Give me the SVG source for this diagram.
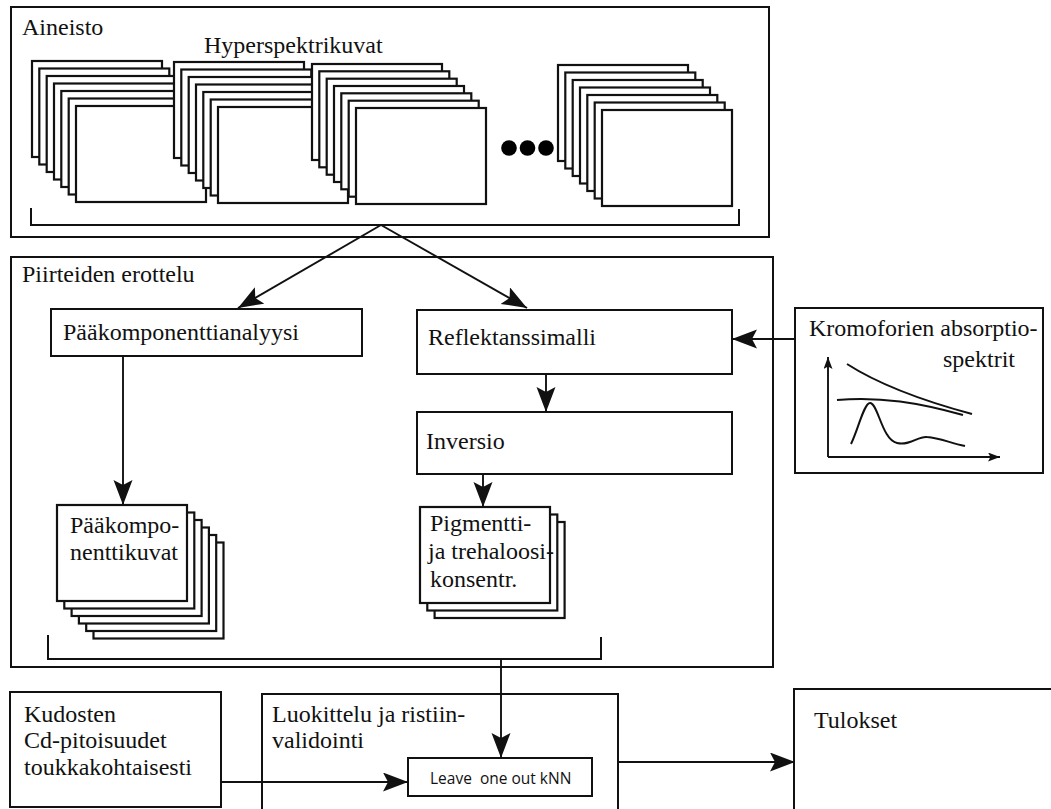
<svg xmlns="http://www.w3.org/2000/svg" width="1051" height="809" viewBox="0 0 1051 809" font-family="'Liberation Serif', 'Times New Roman', 'DejaVu Serif', serif">
<style>
.box{fill:#fff;stroke:#111;stroke-width:2}
.frame{fill:none;stroke:#111;stroke-width:2}
.st{fill:#fff;stroke:#111;stroke-width:2.2}
.t{font-family:'Liberation Serif','Times New Roman','DejaVu Serif',serif;font-size:24px;fill:#111}
.s{font-family:'Open Sans','Liberation Sans',Arial,sans-serif;font-size:15.5px;fill:#111}
.ln{fill:none;stroke:#111;stroke-width:1.9}
.cv{fill:none;stroke:#111;stroke-width:2}
</style>
<defs>
<marker id="ah" markerUnits="userSpaceOnUse" markerWidth="28" markerHeight="22" refX="25" refY="9.5" orient="auto">
<path d="M0,0 L25,9.5 L0,19 L5,9.5 z" fill="#111"/>
</marker>
<marker id="sa" markerUnits="userSpaceOnUse" markerWidth="14" markerHeight="10" refX="12" refY="4.5" orient="auto">
<path d="M0,0 L12,4.5 L0,9 L2.5,4.5 z" fill="#111"/>
</marker>
</defs>
<rect width="1051" height="809" fill="#fff"/>

<g id="aineisto">
<rect class="frame" x="11" y="7" width="758" height="230"/>
<text class="t" x="22" y="35" font-family="Liberation Serif">Aineisto</text>
<text class="t" x="204" y="53" font-family="Liberation Serif">Hyperspektrikuvat</text>
<g id="stack1">
<rect class="st" x="32" y="61" width="130" height="96"/>
<rect class="st" x="39.3" y="68.5" width="130" height="96"/>
<rect class="st" x="46.7" y="76" width="130" height="96"/>
<rect class="st" x="54" y="83.5" width="130" height="96"/>
<rect class="st" x="61.3" y="91" width="130" height="96"/>
<rect class="st" x="68.7" y="98.5" width="130" height="96"/>
<rect class="st" x="76" y="106" width="130" height="96"/>
</g>
<g id="stack2">
<rect class="st" x="174" y="62" width="130" height="96"/>
<rect class="st" x="181.3" y="69.5" width="130" height="96"/>
<rect class="st" x="188.7" y="77" width="130" height="96"/>
<rect class="st" x="196" y="84.5" width="130" height="96"/>
<rect class="st" x="203.3" y="92" width="130" height="96"/>
<rect class="st" x="210.7" y="99.5" width="130" height="96"/>
<rect class="st" x="218" y="107" width="130" height="96"/>
</g>
<g id="stack3">
<rect class="st" x="312" y="64" width="130" height="96"/>
<rect class="st" x="319.3" y="71.3" width="130" height="96"/>
<rect class="st" x="326.7" y="78.7" width="130" height="96"/>
<rect class="st" x="334" y="86" width="130" height="96"/>
<rect class="st" x="341.3" y="93.3" width="130" height="96"/>
<rect class="st" x="348.7" y="100.7" width="130" height="96"/>
<rect class="st" x="356" y="108" width="130" height="96"/>
</g>
<g id="dots" fill="#000">
<circle cx="509" cy="148" r="7.8"/>
<circle cx="527.5" cy="148" r="7.8"/>
<circle cx="546" cy="148" r="7.8"/>
</g>
<g id="stack4">
<rect class="st" x="558" y="65" width="130" height="96"/>
<rect class="st" x="565.3" y="72.5" width="130" height="96"/>
<rect class="st" x="572.7" y="80" width="130" height="96"/>
<rect class="st" x="580" y="87.5" width="130" height="96"/>
<rect class="st" x="587.3" y="95" width="130" height="96"/>
<rect class="st" x="594.7" y="102.5" width="130" height="96"/>
<rect class="st" x="602" y="110" width="130" height="96"/>
</g>
<path class="frame" d="M31,208 V225 H739 V209"/>
</g>

<g id="piirteiden">
<rect class="frame" x="11" y="257" width="762" height="410"/>
<text class="t" x="22" y="282" font-family="Liberation Serif">Piirteiden erottelu</text>
<path class="frame" d="M48,635 V659 H601 V637"/>
</g>

<g id="pca">
<rect class="box" x="51" y="309" width="311" height="47"/>
<text class="t" x="63" y="340" font-family="Liberation Serif">Pääkomponenttianalyysi</text>
</g>

<g id="reflektanssi">
<rect class="box" x="417" y="310" width="315" height="64"/>
<text class="t" x="428" y="345" font-family="Liberation Serif">Reflektanssimalli</text>
</g>

<g id="inversio">
<rect class="box" x="417" y="412" width="315" height="62"/>
<text class="t" x="426" y="449" font-family="Liberation Serif">Inversio</text>
</g>

<g id="pkkuvat">
<rect class="st" x="93.5" y="542.5" width="130" height="96"/>
<rect class="st" x="86.2" y="535" width="130" height="96"/>
<rect class="st" x="78.9" y="527.5" width="130" height="96"/>
<rect class="st" x="71.6" y="520" width="130" height="96"/>
<rect class="st" x="64.3" y="512.5" width="130" height="96"/>
<rect class="st" x="57" y="505" width="130" height="96"/>
<text class="t" x="70" y="533" font-family="Liberation Serif">Pääkompo-</text>
<text class="t" x="70" y="560" font-family="Liberation Serif">nenttikuvat</text>
</g>

<g id="pigmentti">
<rect class="st" x="434.6" y="522" width="130" height="96"/>
<rect class="st" x="427.3" y="514.5" width="130" height="96"/>
<rect class="st" x="420" y="507" width="130" height="96"/>
<text class="t" x="430" y="531" font-family="Liberation Serif">Pigmentti-</text>
<text class="t" x="428" y="559" font-family="Liberation Serif">ja trehaloosi-</text>
<text class="t" x="430" y="587" font-family="Liberation Serif">konsentr.</text>
</g>

<g id="kromoforit">
<rect class="box" x="795" y="308" width="248" height="165"/>
<text class="t" x="809" y="336" font-family="Liberation Serif">Kromoforien absorptio-</text>
<text class="t" x="943" y="367" font-family="Liberation Serif">spektrit</text>
<path class="ln" d="M828,457 V357" marker-end="url(#sa)"/>
<path class="ln" d="M828,457 H1000" marker-end="url(#sa)"/>
<path class="cv" d="M847,364 C875,382 920,400 972,414"/>
<path class="cv" d="M837,400 C880,396 920,403 963,415"/>
<path class="cv" d="M851,444 C858,430 864,403 870,403 C878,403 882,440 897,443 C910,446 918,436 927,437 C940,438 950,443 965,446"/>
</g>

<g id="kudosten">
<rect class="box" x="10" y="692" width="211" height="115"/>
<text class="t" x="24" y="722" font-family="Liberation Serif">Kudosten</text>
<text class="t" x="24" y="748" font-family="Liberation Serif">Cd-pitoisuudet</text>
<text class="t" x="24" y="775" font-family="Liberation Serif">toukkakohtaisesti</text>
</g>

<g id="luokittelu">
<rect class="box" x="262" y="694" width="356" height="130"/>
<text class="t" x="272" y="722" font-family="Liberation Serif">Luokittelu ja ristiin-</text>
<text class="t" x="272" y="748" font-family="Liberation Serif">validointi</text>
</g>

<g id="knn">
<rect class="box" x="408" y="758" width="184" height="38"/>
<text class="s" x="430" y="784" xml:space="preserve">Leave  one out kNN</text>
</g>

<g id="tulokset">
<rect class="box" x="794" y="689" width="270" height="140"/>
<text class="t" x="814" y="728" font-family="Liberation Serif">Tulokset</text>
</g>

<g id="connectors">
<path class="ln" d="M381,225 L238,308" marker-end="url(#ah)"/>
<path class="ln" d="M381,225 L527,308" marker-end="url(#ah)"/>
<path class="ln" d="M123,356 V505" marker-end="url(#ah)"/>
<path class="ln" d="M546,374 V412" marker-end="url(#ah)"/>
<path class="ln" d="M483,474 V507" marker-end="url(#ah)"/>
<path class="ln" d="M795,339 H732" marker-end="url(#ah)"/>
<path class="ln" d="M501,659 V758" marker-end="url(#ah)"/>
<path class="ln" d="M221,782 H408" marker-end="url(#ah)"/>
<path class="ln" d="M618,762 H795" marker-end="url(#ah)"/>
</g>
</svg>
